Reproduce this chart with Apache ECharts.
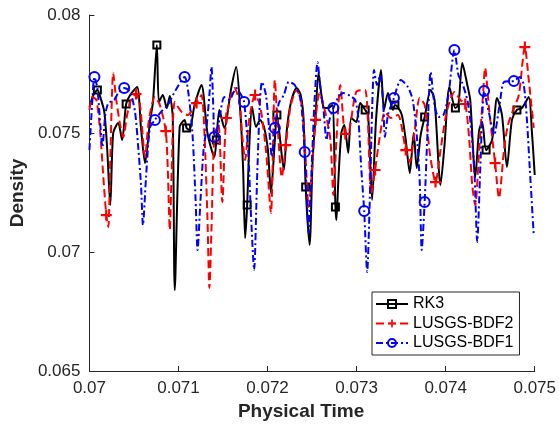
<!DOCTYPE html>
<html>
<head>
<meta charset="utf-8">
<script src="https://cdn.jsdelivr.net/npm/echarts@6/dist/echarts.min.js"></script>
<style>
html,body{margin:0;padding:0;background:#fff;}
#chart{width:559px;height:429px;}
</style>
</head>
<body>
<div id="chart"></div>
<script>
// ---- Data ----
const seriesNames = ['RK3', 'LUSGS-BDF2', 'LUSGS-BDF1'];
const xTicks = [0.07, 0.071, 0.072, 0.073, 0.074, 0.075];
const yTicks = [0.065, 0.07, 0.075, 0.08];

const rk3Time = [0.070000,0.070045,0.070089,0.070122,0.070167,0.070200,0.070234,0.070267,0.070323,0.070367,
0.070412,0.070457,0.070535,0.070579,0.070624,0.070679,0.070713,0.070757,0.070780,0.070824,
0.070869,0.070902,0.070935,0.070958,0.071013,0.071069,0.071091,0.071125,0.071180,0.071258,
0.071325,0.071403,0.071425,0.071459,0.071514,0.071592,0.071648,0.071693,0.071726,0.071748,
0.071771,0.071793,0.071826,0.071871,0.071915,0.071960,0.072004,0.072038,0.072082,0.072105,
0.072183,0.072216,0.072261,0.072327,0.072372,0.072405,0.072428,0.072472,0.072506,0.072539,
0.072572,0.072628,0.072684,0.072728,0.072762,0.072773,0.072795,0.072829,0.072862,0.072906,
0.072940,0.072996,0.073040,0.073096,0.073129,0.073174,0.073218,0.073274,0.073307,0.073352,
0.073408,0.073430,0.073463,0.073508,0.073552,0.073597,0.073641,0.073675,0.073719,0.073764,
0.073831,0.073875,0.073942,0.073987,0.074042,0.074109,0.074143,0.074187,0.074243,0.074276,
0.074332,0.074376,0.074410,0.074454,0.074521,0.074577,0.074632,0.074688,0.074744,0.074800,
0.074855,0.074933,0.074967,0.075000];
const rk3Density = [0.07612,0.07663,0.07684,0.07654,0.07591,0.07431,0.07199,0.07503,0.07545,0.07473,
0.07625,0.07663,0.07697,0.07524,0.07376,0.07549,0.07633,0.07874,0.07633,0.07663,
0.07608,0.07659,0.07570,0.06841,0.07528,0.07558,0.07524,0.07515,0.07621,0.07705,
0.07503,0.07402,0.07473,0.07600,0.07524,0.07692,0.07781,0.07600,0.07347,0.07060,
0.07199,0.07431,0.07612,0.07528,0.07558,0.07528,0.07431,0.07250,0.07473,0.07579,
0.07347,0.07515,0.07629,0.07692,0.07663,0.07558,0.07275,0.07031,0.07389,0.07570,
0.07756,0.07612,0.07608,0.07621,0.07191,0.07136,0.07305,0.07503,0.07537,0.07419,
0.07566,0.07549,0.07629,0.07600,0.07579,0.07221,0.07558,0.07768,0.07600,0.07671,
0.07600,0.07621,0.07612,0.07579,0.07473,0.07334,0.07503,0.07355,0.07494,0.07570,
0.07684,0.07642,0.07284,0.07452,0.07697,0.07608,0.07621,0.07798,0.07705,0.07642,
0.07317,0.07515,0.07549,0.07431,0.07473,0.07650,0.07579,0.07360,0.07558,0.07600,
0.07608,0.07654,0.07515,0.07326];
const rk3Markers = [2,10,17,26,32,40,49,56,64,73,81,89,95,103,109];

const bdf2Time = [0.070000,0.070033,0.070078,0.070122,0.070156,0.070189,0.070212,0.070234,0.070267,0.070301,
0.070345,0.070379,0.070423,0.070468,0.070523,0.070568,0.070624,0.070668,0.070735,0.070791,
0.070857,0.070880,0.070902,0.070924,0.070958,0.071036,0.071102,0.071203,0.071258,0.071292,
0.071325,0.071347,0.071370,0.071403,0.071448,0.071492,0.071537,0.071626,0.071682,0.071715,
0.071748,0.071793,0.071860,0.071915,0.071982,0.072038,0.072082,0.072116,0.072160,0.072205,
0.072261,0.072327,0.072383,0.072428,0.072461,0.072539,0.072584,0.072650,0.072706,0.072739,
0.072773,0.072817,0.072873,0.072918,0.072996,0.073096,0.073163,0.073207,0.073263,0.073318,
0.073385,0.073463,0.073552,0.073597,0.073653,0.073708,0.073764,0.073820,0.073886,0.073942,
0.073998,0.074042,0.074098,0.074165,0.074220,0.074265,0.074298,0.074332,0.074376,0.074421,
0.074443,0.074488,0.074555,0.074599,0.074655,0.074699,0.074766,0.074822,0.074889,0.074933,
0.074989];
const bdf2Density = [0.07600,0.07654,0.07642,0.07503,0.07317,0.07157,0.07107,0.07389,0.07756,0.07642,
0.07537,0.07486,0.07579,0.07642,0.07667,0.07621,0.07402,0.07558,0.07654,0.07621,
0.07511,0.07347,0.07094,0.07347,0.07633,0.07591,0.07579,0.07629,0.07663,0.07494,
0.07145,0.06850,0.07094,0.07494,0.07537,0.07212,0.07566,0.07692,0.07642,0.07494,
0.07389,0.07558,0.07663,0.07621,0.07431,0.07166,0.07726,0.07515,0.07317,0.07452,
0.07621,0.07684,0.07621,0.07389,0.07191,0.07558,0.07671,0.07587,0.07473,0.07242,
0.07473,0.07705,0.07499,0.07515,0.07676,0.07684,0.07242,0.07347,0.07494,0.07591,
0.07566,0.07579,0.07431,0.07381,0.07515,0.07650,0.07621,0.07423,0.07296,0.07431,
0.07566,0.07633,0.07676,0.07642,0.07625,0.07473,0.07284,0.07199,0.07431,0.07676,
0.07777,0.07600,0.07376,0.07229,0.07431,0.07537,0.07608,0.07663,0.07865,0.07726,
0.07524];
const bdf2Markers = [5,14,20,27,36,42,49,55,62,67,72,78,84,92,98];

const bdf1Time = [0.070000,0.070033,0.070056,0.070089,0.070122,0.070145,0.070178,0.070212,0.070278,0.070323,
0.070390,0.070457,0.070512,0.070546,0.070579,0.070601,0.070635,0.070679,0.070735,0.070802,
0.070880,0.070969,0.071069,0.071114,0.071158,0.071192,0.071214,0.071247,0.071281,0.071314,
0.071347,0.071370,0.071392,0.071403,0.071448,0.071514,0.071570,0.071648,0.071704,0.071737,
0.071782,0.071815,0.071849,0.071882,0.071915,0.071938,0.071982,0.072016,0.072049,0.072082,
0.072127,0.072183,0.072238,0.072305,0.072372,0.072417,0.072439,0.072461,0.072494,0.072528,
0.072561,0.072595,0.072628,0.072662,0.072695,0.072739,0.072795,0.072851,0.072929,0.072984,
0.073018,0.073051,0.073085,0.073118,0.073151,0.073174,0.073196,0.073229,0.073263,0.073296,
0.073318,0.073352,0.073419,0.073497,0.073575,0.073630,0.073675,0.073708,0.073731,0.073764,
0.073797,0.073831,0.073875,0.073920,0.073976,0.074031,0.074098,0.074143,0.074187,0.074243,
0.074276,0.074321,0.074354,0.074388,0.074410,0.074432,0.074465,0.074499,0.074543,0.074610,
0.074655,0.074766,0.074833,0.074877,0.074911,0.074944,0.074989];
const bdf1Density = [0.07431,0.07642,0.07739,0.07692,0.07537,0.07444,0.07579,0.07629,0.07642,0.07671,
0.07692,0.07676,0.07591,0.07452,0.07284,0.07115,0.07313,0.07524,0.07558,0.07591,
0.07621,0.07684,0.07739,0.07663,0.07494,0.07221,0.07010,0.07221,0.07431,0.07524,
0.07663,0.07781,0.07600,0.07486,0.07537,0.07654,0.07642,0.07692,0.07663,0.07633,
0.07431,0.07149,0.06926,0.07305,0.07642,0.07718,0.07663,0.07528,0.07402,0.07524,
0.07629,0.07663,0.07718,0.07705,0.07642,0.07423,0.07263,0.07081,0.07347,0.07642,
0.07802,0.07684,0.07600,0.07473,0.07558,0.07608,0.07654,0.07671,0.07659,0.07642,
0.07570,0.07360,0.07174,0.06917,0.07263,0.07600,0.07768,0.07705,0.07747,0.07642,
0.07486,0.07579,0.07650,0.07726,0.07697,0.07642,0.07494,0.07305,0.07010,0.07212,
0.07515,0.07760,0.07621,0.07570,0.07579,0.07663,0.07853,0.07747,0.07713,0.07642,
0.07558,0.07355,0.07044,0.07347,0.07566,0.07680,0.07621,0.07566,0.07494,0.07633,
0.07718,0.07722,0.07739,0.07705,0.07566,0.07355,0.07073];
const bdf1Markers = [2,10,18,22,33,39,49,55,65,72,82,89,96,105,111];

// ---- Build chart ----
const FONT = '"Liberation Sans", Arial, Helvetica, sans-serif';
const TXT = '#262626';
const plusPath = 'path://M4,0h2v4h4v2h-4v4h-2v-4h-4v-2h4z';

function buildData(times, vals, markers) {
  const mset = new Set(markers);
  return times.map((t, i) => mset.has(i)
    ? { value: [t, vals[i]] }
    : { value: [t, vals[i]], symbol: 'none' });
}

const chart = echarts.init(document.getElementById('chart'), null, { renderer: 'canvas' });
chart.setOption({
  animation: false,
  backgroundColor: '#fff',
  textStyle: { fontFamily: FONT, color: TXT },
  grid: { left: 89, right: 21, top: 15, bottom: 58, containLabel: false },
  legend: {
    orient: 'vertical',
    left: 372,
    top: 292,
    data: seriesNames,
    backgroundColor: '#fff',
    borderColor: TXT,
    borderWidth: 1,
    padding: [4, 6, 4, 3],
    itemWidth: 32,
    itemHeight: 10,
    itemGap: 3.5,
    textStyle: { fontFamily: FONT, fontSize: 16, color: '#000', lineHeight: 16, padding: [0, 0, 0, 0] }
  },
  xAxis: {
    type: 'value',
    min: xTicks[0],
    max: xTicks[xTicks.length - 1],
    interval: 0.001,
    name: 'Physical Time',
    nameLocation: 'middle',
    nameGap: 30,
    nameTextStyle: { fontFamily: FONT, fontSize: 19, fontWeight: 'bold', color: TXT, padding: [0, 22, 0, 0] },
    axisLine: { show: true, onZero: false, lineStyle: { color: TXT, width: 1 } },
    axisTick: { show: true, inside: true, length: 5, lineStyle: { color: TXT } },
    axisLabel: { fontFamily: FONT, fontSize: 17, color: TXT, margin: 9,
      formatter: v => String(+v.toFixed(4)) },
    splitLine: { show: false }
  },
  yAxis: {
    type: 'value',
    min: yTicks[0],
    max: yTicks[yTicks.length - 1],
    interval: 0.005,
    name: 'Density',
    nameLocation: 'middle',
    nameGap: 62,
    nameTextStyle: { fontFamily: FONT, fontSize: 19, fontWeight: 'bold', color: TXT },
    axisLine: { show: true, onZero: false, lineStyle: { color: TXT, width: 1 } },
    axisTick: { show: true, inside: true, length: 5, lineStyle: { color: TXT } },
    axisLabel: { fontFamily: FONT, fontSize: 17, color: TXT, margin: 9,
      formatter: v => String(+v.toFixed(4)) },
    splitLine: { show: false }
  },
  series: [
    {
      name: seriesNames[0], type: 'line', smooth: 0.25,
      symbol: 'rect', symbolSize: 7, showSymbol: true, showAllSymbol: true,
      lineStyle: { color: '#000', width: 2, type: 'solid' },
      itemStyle: { color: 'rgba(0,0,0,0)', borderColor: '#000', borderWidth: 2 },
      data: buildData(rk3Time, rk3Density, rk3Markers), z: 2
    },
    {
      name: seriesNames[1], type: 'line', smooth: 0.25,
      symbol: plusPath, symbolSize: 11, showSymbol: true, showAllSymbol: true,
      lineStyle: { color: '#ff0000', width: 2, type: [8, 4] },
      itemStyle: { color: '#ff0000', borderWidth: 0 },
      data: buildData(bdf2Time, bdf2Density, bdf2Markers), z: 3
    },
    {
      name: seriesNames[2], type: 'line', smooth: 0.25,
      symbol: 'circle', symbolSize: 10, showSymbol: true, showAllSymbol: true,
      lineStyle: { color: '#0000ff', width: 2, type: [7, 3, 2, 3] },
      itemStyle: { color: 'rgba(0,0,0,0)', borderColor: '#0000ff', borderWidth: 2 },
      data: buildData(bdf1Time, bdf1Density, bdf1Markers), z: 4
    }
  ]
});
</script>
</body>
</html>
